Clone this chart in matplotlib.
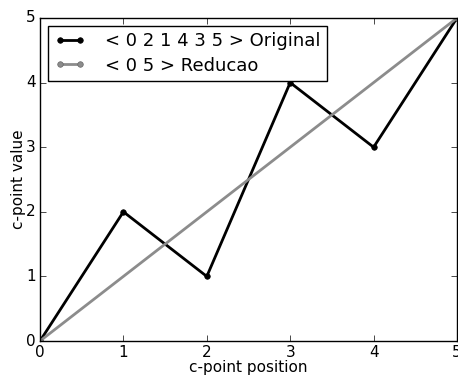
import matplotlib
matplotlib.use("Agg")
import matplotlib.pyplot as plt

pos = [0, 1, 2, 3, 4, 5]
orig = [0, 2, 1, 4, 3, 5]
red_pos = [0, 5]
red = [0, 5]

plt.style.use('classic')
fig = plt.figure(figsize=(4.58, 3.79), dpi=100)
ax = fig.add_axes([40/458, 1-341/379, 417/458, 323/379])
ax.plot(pos, orig, '-o', color='black', lw=2, ms=4, label='< 0 2 1 4 3 5 > Original')
ax.plot(red_pos, red, '-o', color='0.55', mec='0.4', lw=2, ms=4, label='< 0 5 > Reducao')
ax.set_xlim(0, 5)
ax.set_ylim(0, 5)
ax.tick_params(labelsize=11, pad=3)
ax.set_xlabel('c-point position', fontsize=11, labelpad=0)
ax.set_ylabel('c-point value', fontsize=11, labelpad=0)
ax.legend(loc='upper left', fontsize=13, numpoints=2, handlelength=1.7,
          handletextpad=1.1, borderaxespad=0.45, borderpad=0.35, labelspacing=0.35)
fig.savefig('out.png', dpi=100)
